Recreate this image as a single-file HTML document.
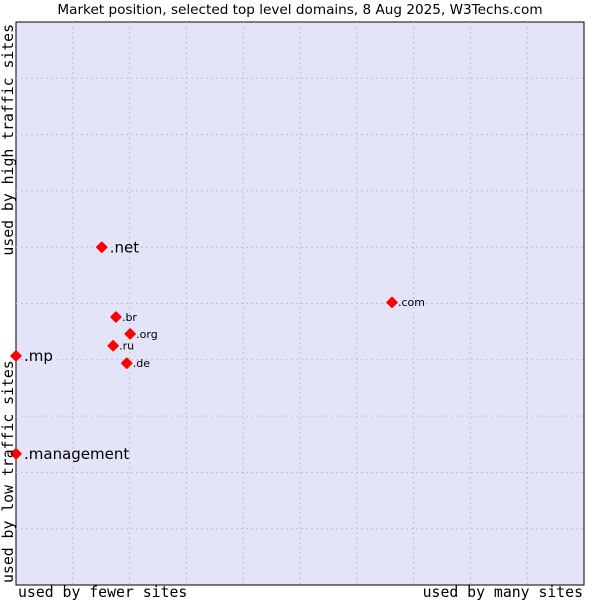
<!DOCTYPE html>
<html><head><meta charset="utf-8"><style>
body{margin:0;background:#fff;width:600px;height:600px;overflow:hidden}
svg text{font-family:"DejaVu Sans","Liberation Sans",sans-serif}
.mono{font-family:"DejaVu Sans Mono","Liberation Mono",monospace}
</style></head><body>
<svg id="chart" width="600" height="600" xmlns="http://www.w3.org/2000/svg">
<text x="300" y="14" text-anchor="middle" font-size="13.6" fill="#000">Market position, selected top level domains, 8 Aug 2025, W3Techs.com</text>
<rect x="16" y="22" width="568" height="563" fill="#e3e4f8" stroke="#000" stroke-width="1"/>
<g id="grid"></g>
<g id="points"></g>
<text class="mono" x="18" y="597" font-size="14.8">used by fewer sites</text>
<text class="mono" x="583" y="597" font-size="14.8" text-anchor="end">used by many sites</text>
<text class="mono" transform="translate(13,24) rotate(-90)" font-size="14.8" text-anchor="end">used by high traffic sites</text>
<text class="mono" transform="translate(13,583) rotate(-90)" font-size="14.8">used by low traffic sites</text>
</svg>
<script>
const labels=[".net",".com",".br",".org",".ru",".de",".mp",".management"];
const xValues=[15.1,66.2,17.6,20.1,17.1,19.5,0,0];
const yValues=[60.0,50.2,47.6,44.6,42.5,39.4,40.7,23.3];
const bigLabel=[true,false,false,false,false,false,true,true];
const gridSteps=[1,2,3,4,5,6,7,8,9];
const NS="http://www.w3.org/2000/svg";
const X0=16,X1=584,Y0=585,Y1=22;
const sx=v=>X0+v/100*(X1-X0), sy=v=>Y0-v/100*(Y0-Y1);
const grid=document.getElementById('grid'),pts=document.getElementById('points');
gridSteps.forEach(s=>{
 const v=document.createElementNS(NS,'line');
 
 
 v.setAttribute('x1',sx(s*10));v.setAttribute('x2',sx(s*10));v.setAttribute('y1',Y1);v.setAttribute('y2',Y0);
 v.setAttribute('stroke','#c0c0c8');v.setAttribute('stroke-dasharray','2,3');grid.appendChild(v);
 const h=document.createElementNS(NS,'line');
 
 
 h.setAttribute('y1',sy(s*10));h.setAttribute('y2',sy(s*10));h.setAttribute('x1',X0);h.setAttribute('x2',X1);
 h.setAttribute('stroke','#c0c0c8');h.setAttribute('stroke-dasharray','2,3');grid.appendChild(h);
});
labels.forEach((l,i)=>{
 const x=sx(xValues[i]),y=sy(yValues[i]);
 const m=document.createElementNS(NS,'polygon');
 
 
 m.setAttribute('points',`${x},${y-5} ${x+5},${y} ${x},${y+5} ${x-5},${y}`);
 m.setAttribute('fill','#ff0000');m.setAttribute('stroke','#ff0000');m.setAttribute('stroke-width','1.5');m.setAttribute('stroke-linejoin','round');pts.appendChild(m);
 const t=document.createElementNS(NS,'text');
 
 
 const fs=bigLabel[i]?15:11;
 t.setAttribute('x',x+(bigLabel[i]?8:6));t.setAttribute('y',y+fs*0.35);
 t.setAttribute('font-size',fs);t.textContent=l;pts.appendChild(t);
});
</script>
</body></html>
